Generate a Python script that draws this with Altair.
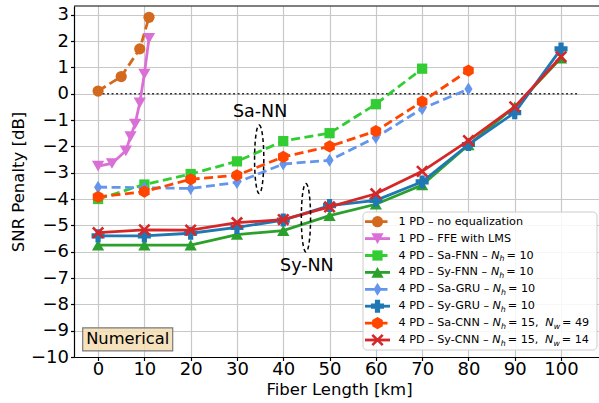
import altair as alt
import pandas as pd

# ---------------- data ----------------
fiber_km = [0, 10, 20, 30, 40, 50, 60, 70, 80, 90, 100]
noeq_km = [0, 5, 9, 11]
noeq_db = [0.1, 0.65, 1.7, 2.9]
ffe_km = [0, 3, 6, 7, 8, 9, 10, 11]
ffe_db = [-2.75, -2.65, -2.17, -1.63, -1.15, -0.35, 0.75, 2.1]
sa_fnn_db = [-4.0, -3.45, -3.05, -2.57, -1.8, -1.5, -0.4, 0.95]
sy_fnn_db = [-5.75, -5.75, -5.75, -5.35, -5.2, -4.63, -4.2, -3.47, -1.95, -0.5, 1.35]
sa_gru_db = [-3.55, -3.57, -3.6, -3.37, -2.67, -2.53, -1.66, -0.57, 0.18]
sy_gru_db = [-5.4, -5.4, -5.3, -5.08, -4.8, -4.25, -4.05, -3.35, -1.93, -0.72, 1.7]
sa_cnn_db = [-3.92, -3.72, -3.25, -3.1, -2.4, -2.0, -1.42, -0.3, 0.88]
sy_cnn_db = [-5.28, -5.17, -5.18, -4.9, -4.78, -4.3, -3.8, -2.95, -1.78, -0.5, 1.4]

series_names = ["1 PD – no equalization", "1 PD – FFE with LMS",
                "4 PD – Sa-FNN", "4 PD – Sy-FNN", "4 PD – Sa-GRU",
                "4 PD – Sy-GRU", "4 PD – Sa-CNN", "4 PD – Sy-CNN"]
n_h = [None, None, 10, 10, 10, 10, 15, 15]
n_w = [None, None, None, None, None, None, 49, 14]
x_ticks = [0, 10, 20, 30, 40, 50, 60, 70, 80, 90, 100]
y_ticks = [-10, -9, -8, -7, -6, -5, -4, -3, -2, -1, 0, 1, 2, 3]
zero_line_km = [0, 104]

series_x = [noeq_km, ffe_km, fiber_km[:8], fiber_km, fiber_km[:9],
            fiber_km, fiber_km[:9], fiber_km]
series_y = [noeq_db, ffe_db, sa_fnn_db, sy_fnn_db, sa_gru_db,
            sy_gru_db, sa_cnn_db, sy_cnn_db]

# ---------------- styles ----------------
FONT = "DejaVu Sans"
W, H = 525, 351
XMIN, XMAX = -5.2, 108.2
YMIN, YMAX = -10, 3.33

THIN_DIAMOND = "M0,-1L0.62,0L0,1L-0.62,0Z"
HEXAGON = "M0,-1L0.866,-0.5L0.866,0.5L0,1L-0.866,0.5L-0.866,-0.5Z"
X_FILLED = ("M-0.7,-1L0,-0.3L0.7,-1L1,-0.7L0.3,0L1,0.7L0.7,1L0,0.3"
            "L-0.7,1L-1,0.7L-0.3,0L-1,-0.7Z")
DASH = [9, 4.5]
styles = [
    dict(color="#D2691E", dash=DASH, shape="circle", size=125),
    dict(color="#DA70D6", dash=None, shape="triangle-down", size=150),
    dict(color="#32CD32", dash=DASH, shape="square", size=105),
    dict(color="#2CA02C", dash=None, shape="triangle-up", size=150),
    dict(color="#6495ED", dash=DASH, shape=THIN_DIAMOND, size=170),
    dict(color="#1F77B4", dash=None, shape="cross", size=170),
    dict(color="#FF4500", dash=DASH, shape=HEXAGON, size=150),
    dict(color="#D62728", dash=None, shape=X_FILLED, size=150),
]

xscale = alt.Scale(domain=[XMIN, XMAX], nice=False, zero=False)
yscale = alt.Scale(domain=[YMIN, YMAX], nice=False, zero=False)
common_axis = dict(labelFont=FONT, labelColor="black", titleFont=FONT,
                   titleColor="black", titleFontWeight="normal",
                   tickColor="black", tickSize=3.5, tickWidth=1.2,
                   domainColor="black", domainWidth=1.2, grid=True,
                   gridColor="#c8c8c8", gridWidth=1.2, labelFlush=False,
                   titleBaseline="middle")
xaxis = alt.Axis(title="Fiber Length [km]", values=x_ticks, labelFontSize=18,
                 labelPadding=0, titleFontSize=16.5, titleX=265, titleY=32,
                 **common_axis)
yaxis = alt.Axis(title="SNR Penalty [dB]", values=y_ticks, labelFontSize=18,
                 labelPadding=2, titleFontSize=16.5, titleX=-56, titleY=175.5,
                 **common_axis)


def X(f="x"):
    return alt.X(f"{f}:Q", scale=xscale, axis=xaxis)


def Y(f="y"):
    return alt.Y(f"{f}:Q", scale=yscale, axis=yaxis)


def px2x(p):
    return XMIN + p / W * (XMAX - XMIN)


def py2y(p):
    return YMAX - p / H * (YMAX - YMIN)


layers = []

# zero reference line
layers.append(
    alt.Chart(pd.DataFrame({"x": [zero_line_km[0]], "x2": [zero_line_km[1]], "y": [0]}))
    .mark_rule(color="#333333", strokeWidth=1.6, strokeDash=[2, 2.5])
    .encode(x=X(), x2="x2:Q", y=Y())
)

# series
for xs, ys, st in zip(series_x, series_y, styles):
    df = pd.DataFrame({"x": xs, "y": ys})
    lk = dict(color=st["color"], strokeWidth=2.8)
    if st["dash"]:
        lk["strokeDash"] = st["dash"]
    layers.append(alt.Chart(df).mark_line(**lk).encode(x=X(), y=Y()))
    layers.append(alt.Chart(df).mark_point(filled=True, opacity=1, color=st["color"],
                                           shape=st["shape"], size=st["size"])
                  .encode(x=X(), y=Y()))

# annotations: ellipses and labels
ELLIPSE = "M0,-1A0.135,1 0 1,1 0,1A0.135,1 0 1,1 0,-1Z"
ell = pd.DataFrame({"x": [34.8, 44.9], "y": [-2.49, -4.71]})
layers.append(alt.Chart(ell).mark_point(shape=ELLIPSE, size=4700, filled=False,
                                        color="black", strokeWidth=1.5,
                                        strokeDash=[4, 3], opacity=1)
              .encode(x=X(), y=Y()))
ann = pd.DataFrame({"x": [35.0, 45.1], "y": [-0.68, -6.53], "t": ["Sa-NN", "Sy-NN"]})
layers.append(alt.Chart(ann).mark_text(font=FONT, fontSize=17.5, color="black",
                                       align="center", baseline="middle")
              .encode(x=X(), y=Y(), text="t:N"))

# "Numerical" box
num = pd.DataFrame({"x": [6.4], "y": [-9.33], "t": ["Numerical"]})
BOX = "M-1,-0.256L1,-0.256L1,0.256L-1,0.256Z"
layers.append(alt.Chart(num).mark_point(shape=BOX, size=8100, filled=True,
                                        fill="#F5DEB3", fillOpacity=0.85,
                                        stroke="#7a7a7a", strokeWidth=1.2, opacity=1)
              .encode(x=X(), y=Y()))
layers.append(alt.Chart(num).mark_text(font=FONT, fontSize=16.3, color="black",
                                       align="center", baseline="middle")
              .encode(x=X(), y=Y(), text="t:N"))

# ---------------- legend ----------------
ADV = {" ": 651, "P": 1235, "D": 1577, "–": 1024, "n": 1298, "o": 1253,
       "e": 1260, "q": 1300, "u": 1298, "a": 1255, "l": 569, "i": 569,
       "z": 1075, "t": 803, "F": 1178, "E": 1294, "w": 1675, "h": 1298,
       "L": 1141, "M": 1767, "S": 1300, "-": 739, "N": 1532, "y": 1212,
       "G": 1587, "R": 1423, "U": 1499, "C": 1430, "=": 1716, ",": 651}
FS = 11.2


def tw(s, size):
    return sum(ADV.get(c, 1303) for c in s) / 2048 * size


LB = dict(left=289, right=523, top=206, bottom=344)
ROW0, STEP = 215.7, 16.9
LINE_X0, LINE_X1, MARK_X, TEXT_X = 291, 316, 303.5, 324.5

layers.append(
    alt.Chart(pd.DataFrame({"x": [px2x(LB["left"])], "x2": [px2x(LB["right"])],
                            "y": [py2y(LB["top"])], "y2": [py2y(LB["bottom"])]}))
    .mark_rect(fill="white", fillOpacity=0.85, stroke="#cccccc", strokeWidth=1,
               cornerRadius=4)
    .encode(x=X(), x2="x2:Q", y=Y(), y2="y2:Q")
)

seg_rows = []
for i, (name, st) in enumerate(zip(series_names, styles)):
    py = ROW0 + STEP * i
    ly = py2y(py)
    lk = dict(color=st["color"], strokeWidth=2.8)
    if st["dash"]:
        lk["strokeDash"] = st["dash"]
    layers.append(alt.Chart(pd.DataFrame({"x": [px2x(LINE_X0)], "x2": [px2x(LINE_X1)], "y": [ly]}))
                  .mark_rule(**lk).encode(x=X(), x2="x2:Q", y=Y()))
    layers.append(alt.Chart(pd.DataFrame({"x": [px2x(MARK_X)], "y": [ly]}))
                  .mark_point(filled=True, opacity=1, color=st["color"],
                              shape=st["shape"], size=st["size"])
                  .encode(x=X(), y=Y()))
    segs = [(name + (" – " if n_h[i] else ""), "n")]
    if n_h[i]:
        segs += [("N", "i"), ("h", "s")]
        if n_w[i]:
            segs += [(f" = {n_h[i]},", "n"), ("N", "i"), ("w", "s"), (f" = {n_w[i]}", "n")]
        else:
            segs += [(f" = {n_h[i]}", "n")]
    cur = TEXT_X
    for text, kind in segs:
        if text.startswith(" ="):
            cur += 2
        seg_rows.append({"x": px2x(cur), "y": ly, "t": text, "k": kind})
        cur += tw(text, FS * (0.7 if kind == "s" else 1))
        if text.endswith(","):
            cur += 3.0

segdf = pd.DataFrame(seg_rows)
for kind, kw in [("n", dict(fontSize=FS)),
                 ("i", dict(fontSize=FS, fontStyle="italic")),
                 ("s", dict(fontSize=FS * 0.7, fontStyle="italic", dy=3.5))]:
    layers.append(alt.Chart(segdf[segdf.k == kind]).mark_text(
        font=FONT, color="black", align="left", baseline="middle", **kw)
        .encode(x=X(), y=Y(), text="t:N"))

# top spine
layers.append(alt.Chart(pd.DataFrame({"a": [0]})).mark_rule(color="black", strokeWidth=1.2)
              .encode(x=alt.value(0), x2=alt.value(W), y=alt.value(0)))

chart = (alt.layer(*layers)
         .properties(width=W, height=H,
                     autosize=alt.AutoSizeParams(type="none"),
                     padding={"left": 74, "top": 6, "right": 0, "bottom": 46},
                     background="white")
         .configure_view(stroke=None))

chart.save("out.html", embed_options={"renderer": "svg", "actions": False})
